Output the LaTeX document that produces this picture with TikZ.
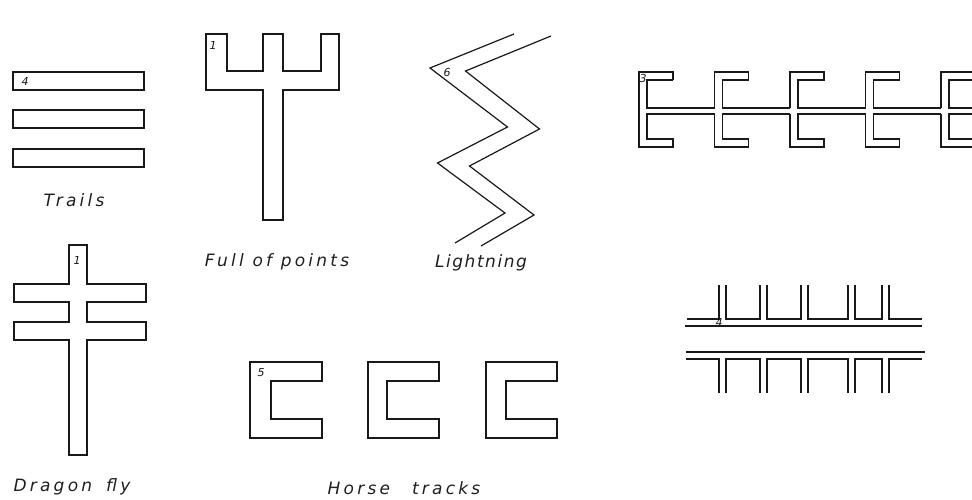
\documentclass[tikz,border=0pt]{standalone}
\usepackage{fontspec}
\newfontfamily\lett[LetterSpace=19]{DejaVu Sans}
\newfontfamily\lettn[LetterSpace=9]{DejaVu Sans}
\newfontfamily\digs{DejaVu Sans}
\begin{document}
\begin{tikzpicture}[x=1pt,y=-1pt]
\tikzset{
  ln/.style={draw=black!90, line width=1.2pt, line join=miter},
  lab/.style={font=\lett\itshape\fontsize{17}{19}\selectfont, text=black!88, inner sep=0pt, anchor=center},
  labn/.style={font=\lettn\itshape\fontsize{17}{19}\selectfont, text=black!88, inner sep=0pt, anchor=center},
  num/.style={font=\digs\itshape\fontsize{11}{12}\selectfont, text=black!90, inner sep=0pt}
}
\fill[white] (0,0) rectangle (972,499);
\useasboundingbox (0,0) rectangle (972,499);
\clip (0,0) rectangle (972,499);

% Trails
\draw[ln] (13,72) rectangle (144,90);
\draw[ln] (13,110) rectangle (144,128);
\draw[ln] (13,149) rectangle (144,167);
\node[num] (ntrails) at (25,81) {4};
\node[lab] (trails) at (74,200) {Trails};

% Full of points
\draw[ln] (206,34) -- (227,34) -- (227,71) -- (263,71) -- (263,34) -- (283,34) -- (283,71)
  -- (321,71) -- (321,34) -- (339,34) -- (339,90) -- (283,90) -- (283,220) -- (263,220)
  -- (263,90) -- (206,90) -- cycle;
\node[num] (nfull) at (213,45) {1};
\node[lab] (full) at (277,262) {Full of points};

% Lightning
\draw[ln] (514,34) -- (430,68) -- (507.5,127) -- (437.5,163) -- (505,213) -- (455,243);
\draw[ln] (551,36) -- (465.5,71) -- (539.5,129) -- (469.5,166) -- (534,215) -- (481,246);
\node[num] (nlight) at (447,72) {6};
\node[labn] (light) at (481,263) {Lightning};

% Dragon fly
\draw[ln] (69,245) -- (87,245) -- (87,284) -- (146,284) -- (146,302) -- (87,302) -- (87,322)
  -- (146,322) -- (146,340) -- (87,340) -- (87,455) -- (69,455) -- (69,340) -- (14,340)
  -- (14,322) -- (69,322) -- (69,302) -- (14,302) -- (14,284) -- (69,284) -- cycle;
\node[num] (ndragon) at (77,260) {1};
\node[lab] (dragon) at (72,487) {Dragon\hspace{14pt}fly};

% Horse tracks
\foreach \L/\R/\I in {250/322/271, 368/439/387, 486/557/506}{
  \draw[ln] (\L,362) -- (\R,362) -- (\R,381) -- (\I,381) -- (\I,419) -- (\R,419) -- (\R,438) -- (\L,438) -- cycle;
}
\node[num] (nhorse) at (261,373) {5};
\node[lab] (horse) at (404,488) {Horse\hspace{22pt}tracks};

% Top-right chain
\draw[ln] (673,80) -- (673,72) -- (639,72) -- (639,147) -- (673,147) -- (673,139) -- (647,139) -- (647,114) -- (714.5,114);
\draw[ln] (673,80) -- (647,80) -- (647,108) -- (714.5,108);
\foreach \P/\N in {714.5/790, 790/865.5, 865.5/941, 941/990}{
  \draw[ln] (\P,108) -- (\P,72) -- (\P+34,72) -- (\P+34,80) -- (\P+8,80) -- (\P+8,108) -- (\N,108);
  \draw[ln] (\P,114) -- (\P,147) -- (\P+34,147) -- (\P+34,139) -- (\P+8,139) -- (\P+8,114) -- (\N,114);
}
\node[num] (nchain) at (643,78) {3};

% Bottom-right comb
\draw[ln] (687,319) -- (719,319) -- (719,285);
\foreach \A/\B in {726/760, 767/801, 808/848, 855/882}{
  \draw[ln] (\A,285) -- (\A,319) -- (\B,319) -- (\B,285);
}
\draw[ln] (889,285) -- (889,319) -- (922,319);
\draw[ln] (685,326) -- (922,326);
\draw[ln] (686,352) -- (925,352);
\draw[ln] (686,359) -- (719,359) -- (719,393);
\foreach \A/\B in {726/760, 767/801, 808/848, 855/882}{
  \draw[ln] (\A,393) -- (\A,359) -- (\B,359) -- (\B,393);
}
\draw[ln] (889,393) -- (889,359) -- (922,359);
\node[num] (ncomb) at (719,322) {4};
\end{tikzpicture}
\end{document}
